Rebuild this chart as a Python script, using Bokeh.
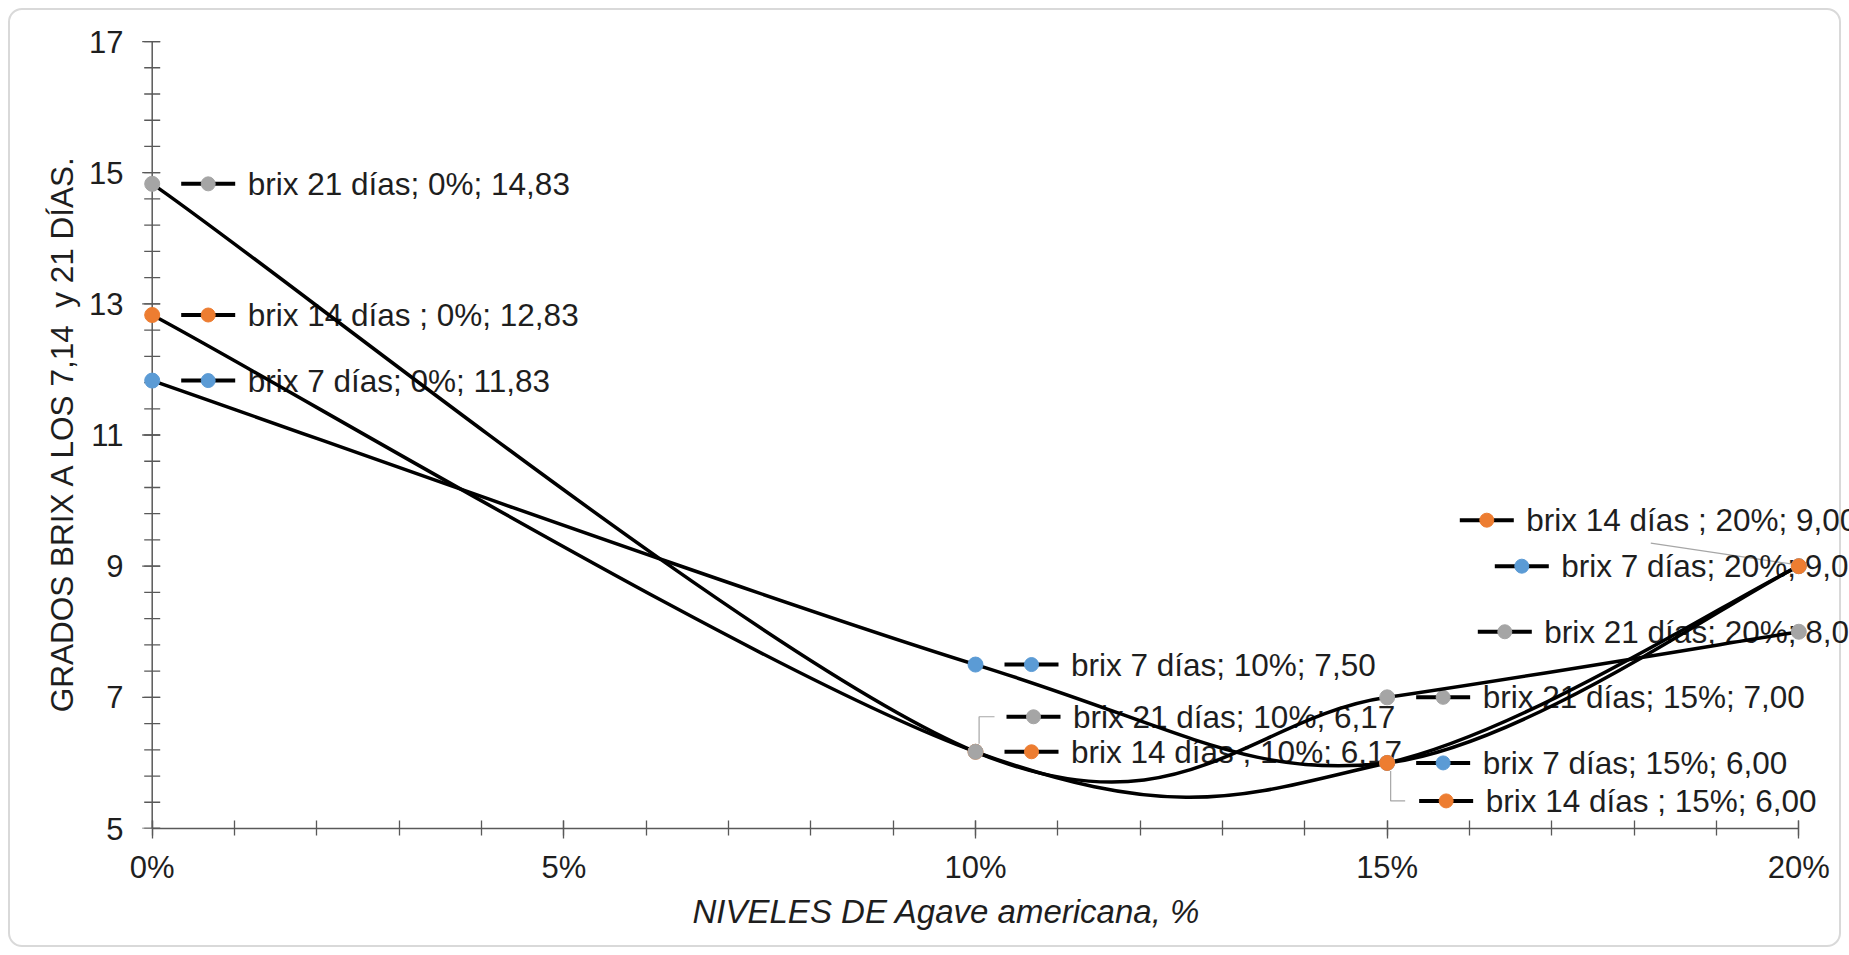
import numpy as np
from bokeh.plotting import figure
from bokeh.models import Range1d, FixedTicker, Title
from bokeh.core.properties import value
from bokeh.embed import file_html
from bokeh.resources import INLINE

# ---------------- data ----------------
levels = [0, 10, 15, 20]                     # % Agave americana
series_names = ["brix 7 días", "brix 14 días ", "brix 21 días"]
brix_7 = [11.83, 7.50, 6.00, 9.00]
brix_14 = [12.83, 6.17, 6.00, 9.00]
brix_21 = [14.83, 6.17, 7.00, 8.00]
series_colors = ["#5B9BD5", "#ED7D31", "#A5A5A5"]
x_ticks = [0, 5, 10, 15, 20]
x_tick_labels = ["0%", "5%", "10%", "15%", "20%"]
y_ticks = [5, 7, 9, 11, 13, 15, 17]
y_title = "GRADOS BRIX A LOS 7,14 \u00a0y 21 DÍAS."
x_title = "NIVELES DE Agave americana, %"

# ---------------- layout (pixels) ----------------
W, H = 1849, 955
X0_PX = 151.7          # canvas x of 0 %
PX_X = 82.33           # px per 1 %
PX_Y = 65.58           # px per 1 brix unit
FRAME_LEFT, FRAME_TOP, FRAME_BOTTOM = 136, 37, 828
FONT = "Liberation Sans"
TXT = "#1e1e1e"
AX = "#595959"

# label placement: (key-centre dx px, dy px up) relative to each point
label_offsets = [
    [(56, 0), (56, 0), (56, 0), (-277, 0)],
    [(56, 0), (56, 0), (59, -38), (-312, 46)],
    [(56, 0), (58, 35), (56, 0), (-294, 0)],
]
# leader lines (series index, point index, list of px offsets)
leaders = [
    (2, 1, [(3.6, 8), (3.6, 35), (19, 35)]),
    (1, 2, [(3.5, -8), (3.5, -38), (18, -38)]),
    (1, 3, [(-148, 23), (-6, 2)]),
]

x_start = (FRAME_LEFT - X0_PX) / PX_X
x_end = (W - X0_PX) / PX_X
y_end = 5 + (FRAME_BOTTOM - FRAME_TOP) / PX_Y

p = figure(width=W, height=H, output_backend="svg", toolbar_location=None,
           x_range=Range1d(x_start, x_end), y_range=Range1d(5, y_end),
           min_border_left=FRAME_LEFT, min_border_right=0,
           min_border_top=FRAME_TOP, min_border_bottom=H - FRAME_BOTTOM)
p.outline_line_color = None
p.background_fill_color = None
p.border_fill_color = None
p.xgrid.visible = False
p.ygrid.visible = False
p.styles = {"outline": "2px solid #D9D9D9", "outline-offset": "-10px",
            "border-radius": "22px", "background-color": "white"}

# x axis (real Bokeh axis)
xa = p.xaxis[0]
xa.ticker = FixedTicker(ticks=x_ticks, minor_ticks=list(np.arange(0, 21, 1)))
xa.major_label_overrides = {t: l for t, l in zip(x_ticks, x_tick_labels)}
xa.bounds = (0, 20)
xa.major_tick_in, xa.major_tick_out = 8, 10
xa.minor_tick_in, xa.minor_tick_out = 8, 7
xa.major_label_standoff = 11
xa.axis_line_color = AX
xa.axis_line_width = 1.5
xa.major_tick_line_color = AX
xa.minor_tick_line_color = AX
xa.major_tick_line_width = 1.3
xa.minor_tick_line_width = 1.3

# y axis: Bokeh axis gives the labels, its line/ticks are drawn at x = 0 below
ya = p.yaxis[0]
ya.ticker = FixedTicker(ticks=y_ticks)
ya.bounds = (5, 17)
ya.major_tick_in = ya.major_tick_out = 0
ya.minor_tick_in = ya.minor_tick_out = 0
ya.axis_line_color = None
ya.major_tick_line_color = None
ya.minor_tick_line_color = None
ya.major_label_standoff = FRAME_LEFT - 123

for a in (xa, ya):
    a.major_label_text_font = FONT
    a.major_label_text_font_size = "31px"
    a.major_label_text_color = TXT

y_minor = np.round(np.arange(5, 17.01, 0.4), 2)
p.segment(x0=0, y0=5, x1=0, y1=17, line_color=AX, line_width=1.5)
p.segment(x0=-8 / PX_X, y0=y_minor, x1=8 / PX_X, y1=y_minor, line_color=AX, line_width=1.3)
p.segment(x0=-10 / PX_X, y0=y_ticks, x1=8 / PX_X, y1=y_ticks, line_color=AX, line_width=1.3)

# axis titles
p.add_layout(Title(text=y_title, align="center",
                   text_font=FONT, text_font_size="31.5px", text_font_style="normal",
                   text_color=TXT, standoff=14), "left")
p.add_layout(Title(text=x_title, align="left", offset=692 - FRAME_LEFT,
                   text_font=FONT, text_font_size="33px", text_font_style="italic",
                   text_color=TXT, standoff=6), "below")

all_series = [brix_7, brix_14, brix_21]
xs = np.array(levels, float)

# leader lines
for si, pi, pts in leaders:
    px0, py0 = xs[pi], all_series[si][pi]
    p.line([px0 + dx / PX_X for dx, dy in pts], [py0 + dy / PX_Y for dx, dy in pts],
           line_color="#A6A6A6", line_width=1.2)

# data labels with legend keys
for si, (name, ys, col) in enumerate(zip(series_names, all_series, series_colors)):
    kx, ky, tx, texts = [], [], [], []
    for pi, (xv, yv) in enumerate(zip(levels, ys)):
        dx, dy = label_offsets[si][pi]
        kx.append(xv + dx / PX_X)
        ky.append(yv + dy / PX_Y)
        tx.append(xv + (dx + 39.5) / PX_X)
        texts.append(f"{name}; {xv}%; {yv:.2f}".replace(".", ","))
    kx = np.array(kx); ky = np.array(ky)
    p.segment(kx - 27 / PX_X, ky, kx + 27 / PX_X, ky, line_color="black", line_width=4)
    p.scatter(kx, ky, size=14, fill_color=col, line_color=col)
    p.text(tx, list(ky), text=texts, text_font=value(FONT), text_font_size="31.5px",
           text_color=TXT, text_align="left", text_baseline="middle")

# smoothed lines (Excel-like cubic Bezier, Catmull-Rom tangents)
def bezier_parts(xv, yv):
    xv = np.asarray(xv, float); yv = np.asarray(yv, float)
    n = len(xv)
    xp = np.concatenate([[xv[0]], xv, [xv[-1]]])
    yp = np.concatenate([[yv[0]], yv, [yv[-1]]])
    cx0 = xv[:-1] + (xp[2:n + 1] - xp[0:n - 1]) / 6
    cy0 = yv[:-1] + (yp[2:n + 1] - yp[0:n - 1]) / 6
    cx1 = xv[1:] - (xp[3:n + 2] - xp[1:n]) / 6
    cy1 = yv[1:] - (yp[3:n + 2] - yp[1:n]) / 6
    return xv[:-1], yv[:-1], xv[1:], yv[1:], cx0, cy0, cx1, cy1

for ys in all_series:
    x0, y0, x1, y1, cx0, cy0, cx1, cy1 = bezier_parts(levels, ys)
    p.bezier(x0=x0, y0=y0, x1=x1, y1=y1, cx0=cx0, cy0=cy0, cx1=cx1, cy1=cy1,
             line_color="black", line_width=3.5)
for ys, col in zip(all_series, series_colors):
    p.scatter(levels, ys, size=15, fill_color=col, line_color=col)

open("out.html", "w").write(file_html(p, INLINE))
